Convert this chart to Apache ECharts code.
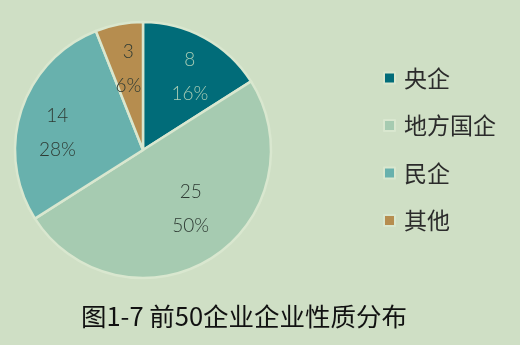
<!DOCTYPE html>
<html><head><meta charset="utf-8">
<script src="https://cdn.jsdelivr.net/npm/echarts@6/dist/echarts.min.js"></script>
<style>html,body{margin:0;padding:0;background:#cfdfc5;}#c{width:520px;height:345px;}</style>
</head><body><div id="c"></div>
<script>
const categories = ['央企', '地方国企', '民企', '其他'];
const values = [8, 25, 14, 3];
const colors = ['#016c79', '#a6cbb1', '#68b1ad', '#b68d4f'];
const labelColors = ['#a9cdb5', '#2e3a33', '#2e3a33', '#2e3a33'];
const titleText = '图1-7 前50企业企业性质分布';
const labelShift = [[4, 4.5], [0, -16.5], [-1, 10.5], [2, 6]];

const chart = echarts.init(document.getElementById('c'));
const center = [143, 150];
chart.setOption({
  backgroundColor: '#cfdfc5',
  animation: false,
  title: {
    text: titleText, left: 244, textAlign: 'center', top: 304, padding: 0,
    textStyle: {fontFamily: 'Noto Sans CJK SC', fontSize: 25.5, fontWeight: 'normal', color: '#111'}
  },
  legend: {
    orient: 'vertical', left: 383, top: 66.5, padding: 0, itemWidth: 11, itemHeight: 11, itemGap: 24.5,
    icon: 'rect', data: categories,
    textStyle: {fontFamily: 'Noto Sans CJK SC', fontSize: 23, color: '#2b2b2b', padding: [0,0,0,4]}
  },
  series: [{
    type: 'pie', center: center, radius: [0, 128], startAngle: 90, clockwise: true,
    label: {show: false}, labelLine: {show: false},
    itemStyle: {borderColor: '#d9e7cf', borderWidth: 2.5},
    data: categories.map((n, i) => ({name: n, value: values[i], itemStyle: {color: colors[i]}}))
  }, {
    type: 'pie', center: center, radius: [0, 172], startAngle: 90, clockwise: true, silent: true,
    itemStyle: {color: 'rgba(0,0,0,0)'}, labelLine: {show: false},
    label: {show: true, position: 'inside', formatter: '{c}\n{d}%', fontFamily: 'Lato', fontWeight: 300, fontSize: 19, lineHeight: 34},
    labelLayout: function (p) { return {dx: labelShift[p.dataIndex][0], dy: labelShift[p.dataIndex][1]}; },
    data: categories.map((n, i) => ({name: n, value: values[i], label: {color: labelColors[i]}}))
  }]
});
</script></body></html>
